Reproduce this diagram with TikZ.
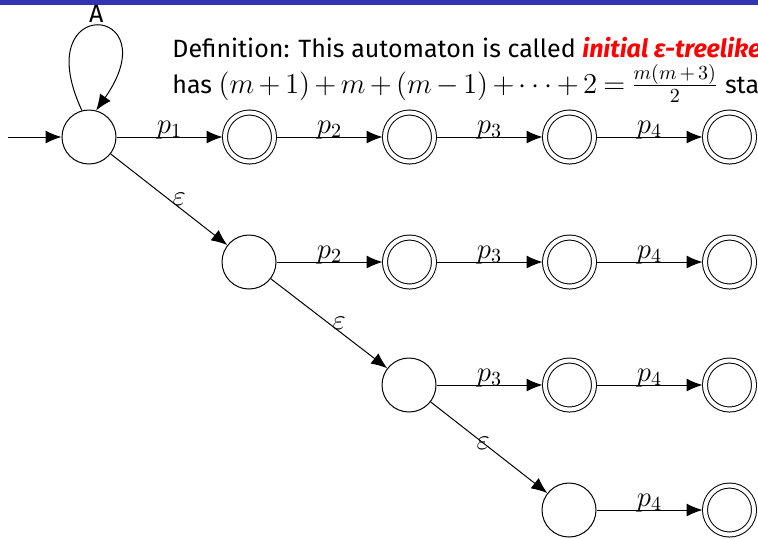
\documentclass[tikz,border=0pt]{standalone}
\usepackage{amsmath}
\usepackage{xcolor}
\usepackage{fontspec}
\setmainfont{Fira Sans}
\usetikzlibrary{positioning,arrows.meta}

\definecolor{barblue}{rgb}{0.2,0.2,0.7}
\newcommand{\mathsize}{\fontsize{14.4}{17}\selectfont\medmuskip=2.75mu\thickmuskip=3.75mu}
\newcommand{\fracsize}{\fontsize{10}{12}\selectfont}

\begin{document}
\begin{tikzpicture}[
        x=0.5pt, y=-0.5pt,
        node distance=53pt,
        font=\fontsize{12.5}{15}\selectfont,
        state/.style={circle, draw, line width=0.5pt, minimum size=27pt, inner sep=0pt},
        accept/.style={circle, draw, line width=0.5pt, double, double distance=2pt, minimum size=24.5pt, inner sep=0pt, outer sep=1.25pt},
        arrow/.style={-{Latex[length=8pt, width=6.5pt]}, line width=0.5pt},
        lbl/.style={anchor=base, yshift=1.8pt, inner sep=0pt, font=\fontsize{14}{16}\selectfont},
        elbl/.style={inner sep=1.5pt, font=\fontsize{14}{16}\selectfont}
    ]
    \clip (0,0) rectangle (758,538);
    \fill[barblue] (0,0) rectangle (758,5);

    % definition text
    \node[anchor=base west, inner sep=0pt] (defn) at (172,57) {Definition: This automaton is called \textcolor{red}{\bfseries\itshape initial ε-treelike}};
    \node[anchor=base west, inner sep=0pt] (count) at (172,93) {has {\mathsize$(m+1)+m+(m-1)+\cdots+2=\frac{\mbox{\fracsize$m(m+3)$}}{\mbox{\fracsize$2$}}$} states};

    % first row
    \node[state] (q0) at (89,137) {};
    \node[accept, right=of q0] (a11) {};
    \node[accept, right=of a11] (a12) {};
    \node[accept, right=of a12] (a13) {};
    \node[accept, right=of a13] (a14) {};

    % second row
    \node[state] (q1) at (249,262) {};
    \node[accept, right=of q1] (a22) {};
    \node[accept, right=of a22] (a23) {};
    \node[accept, right=of a23] (a24) {};

    % third row
    \node[state] (q2) at (409,385) {};
    \node[accept, right=of q2] (a33) {};
    \node[accept, right=of a33] (a34) {};

    % fourth row
    \node[state] (q3) at (569,510) {};
    \node[accept, right=of q3] (a44) {};

    % start arrow and loop
    \coordinate (start) at (8,137);
    \draw[arrow] (start) -- (q0);
    \draw[arrow] (q0.105) .. controls +(115:65pt) and +(55:65pt) .. node[pos=0.5, above, inner sep=1.5pt] (loopA) {A} (q0.75);

    % epsilon edges
    \draw[arrow] (q0) -- node[midway, right, elbl] (e1) {$\varepsilon$} (q1);
    \draw[arrow] (q1) -- node[midway, right, elbl] (e2) {$\varepsilon$} (q2);
    \draw[arrow] (q2) -- node[pos=0.45, inner sep=0pt, elbl] (e3) {$\varepsilon$} (q3);

    % p edges
    \draw[arrow] (q0) -- node[lbl] {$p_1$} (a11);
    \draw[arrow] (a11) -- node[lbl] {$p_2$} (a12);
    \draw[arrow] (a12) -- node[lbl] {$p_3$} (a13);
    \draw[arrow] (a13) -- node[lbl] {$p_4$} (a14);
    \draw[arrow] (q1) -- node[lbl] {$p_2$} (a22);
    \draw[arrow] (a22) -- node[lbl] {$p_3$} (a23);
    \draw[arrow] (a23) -- node[lbl] {$p_4$} (a24);
    \draw[arrow] (q2) -- node[lbl] {$p_3$} (a33);
    \draw[arrow] (a33) -- node[lbl] {$p_4$} (a34);
    \draw[arrow] (q3) -- node[lbl] {$p_4$} (a44);

\end{tikzpicture}
\end{document}
